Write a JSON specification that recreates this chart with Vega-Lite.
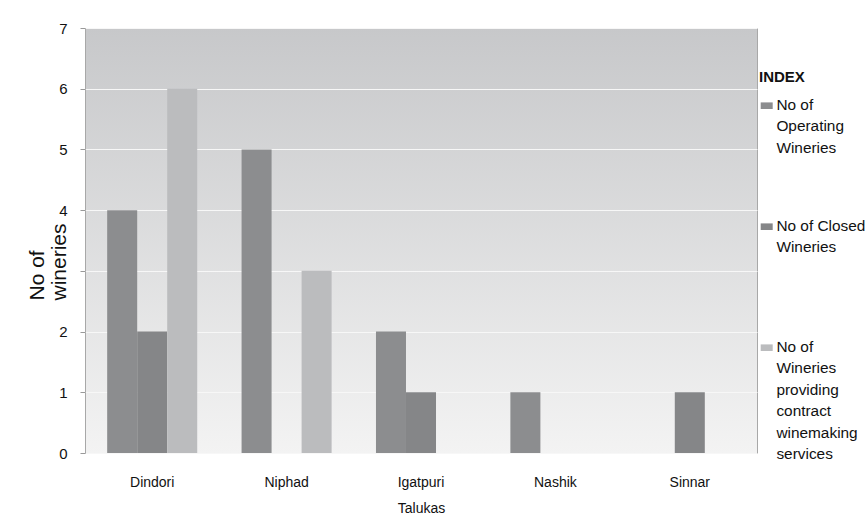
{
  "$schema": "https://vega.github.io/schema/vega-lite/v6.json",
  "width": 672,
  "height": 425,
  "autosize": {"type": "none"},
  "padding": {"left": 85, "top": 28, "right": 110, "bottom": 66},
  "background": "white",
  "config": {
    "font": "Liberation Sans",
    "view": {
      "stroke": "#a8a8a8",
      "strokeWidth": 1,
      "fill": {"gradient": "linear", "x1": 0, "y1": 0, "x2": 0, "y2": 1,
        "stops": [{"offset": 0, "color": "#c7c8ca"}, {"offset": 1, "color": "#f3f3f3"}]}
    }
  },
  "data": {
    "values": [
      {"taluka": "Dindori", "series": "No of Operating Wineries", "count": 4},
      {"taluka": "Dindori", "series": "No of Closed Wineries", "count": 2},
      {"taluka": "Dindori", "series": "No of Wineries providing contract winemaking services", "count": 6},
      {"taluka": "Niphad", "series": "No of Operating Wineries", "count": 5},
      {"taluka": "Niphad", "series": "No of Closed Wineries", "count": 0},
      {"taluka": "Niphad", "series": "No of Wineries providing contract winemaking services", "count": 3},
      {"taluka": "Igatpuri", "series": "No of Operating Wineries", "count": 2},
      {"taluka": "Igatpuri", "series": "No of Closed Wineries", "count": 1},
      {"taluka": "Igatpuri", "series": "No of Wineries providing contract winemaking services", "count": 0},
      {"taluka": "Nashik", "series": "No of Operating Wineries", "count": 1},
      {"taluka": "Nashik", "series": "No of Closed Wineries", "count": 0},
      {"taluka": "Nashik", "series": "No of Wineries providing contract winemaking services", "count": 0},
      {"taluka": "Sinnar", "series": "No of Operating Wineries", "count": 0},
      {"taluka": "Sinnar", "series": "No of Closed Wineries", "count": 1},
      {"taluka": "Sinnar", "series": "No of Wineries providing contract winemaking services", "count": 0}
    ]
  },
  "mark": {"type": "bar"},
  "encoding": {
    "x": {
      "field": "taluka", "type": "nominal",
      "sort": ["Dindori", "Niphad", "Igatpuri", "Nashik", "Sinnar"],
      "scale": {"paddingInner": 0.33, "paddingOuter": 0.165},
      "axis": {
        "title": "Talukas", "titleFontSize": 14, "titleFontWeight": "normal", "titleColor": "#111",
        "titlePadding": 12,
        "labelAngle": 0, "labelFontSize": 14, "labelColor": "#111", "labelPadding": 22,
        "ticks": false, "domain": false, "grid": false
      }
    },
    "xOffset": {
      "field": "series", "type": "nominal",
      "sort": ["No of Operating Wineries", "No of Closed Wineries", "No of Wineries providing contract winemaking services"],
      "scale": {"paddingInner": 0, "paddingOuter": 0}
    },
    "y": {
      "field": "count", "type": "quantitative",
      "scale": {"domain": [0, 7]},
      "axis": {
        "title": ["No of", "wineries"],
        "titleFontSize": 21, "titleFontWeight": "normal", "titleColor": "#111",
        "titleAngle": 270, "titleAlign": "left", "titleBaseline": "alphabetic",
        "titleLineHeight": 22, "titleX": -42, "titleY": 272,
        "values": [0, 1, 2, 3, 4, 5, 6, 7],
        "labelExpr": "datum.value == 3 ? '' : datum.label",
        "labelFontSize": 15, "labelColor": "#111", "labelPadding": 13,
        "tickSize": 5, "tickColor": "#999", "domain": false,
        "gridColor": "#f7f7f7", "gridWidth": 1.2
      }
    },
    "color": {
      "field": "series", "type": "nominal",
      "scale": {
        "domain": ["No of Operating Wineries", "No of Closed Wineries", "No of Wineries providing contract winemaking services"],
        "range": ["#8c8d8f", "#858688", "#bbbcbe"]
      },
      "legend": {
        "orient": "none", "legendX": 674, "legendY": 42,
        "title": "INDEX", "titleFontSize": 15, "titleFontWeight": "bold", "titleColor": "#111",
        "titlePadding": 13,
        "labelFontSize": 15.4, "labelColor": "#111", "labelBaseline": "top",
        "labelLimit": 200, "labelOffset": 2,
        "symbolType": "M-1,-0.55H1V0.55H-1Z", "symbolSize": 144, "symbolStrokeWidth": 0,
        "rowPadding": 18,
        "labelExpr": "datum.label == 'No of Operating Wineries' ? ['No of', 'Operating', 'Wineries', '', ''] : datum.label == 'No of Closed Wineries' ? ['No of Closed', 'Wineries', '', '', ''] : ['No of', 'Wineries', 'providing', 'contract', 'winemaking', 'services']",
        "encode": {
          "labels": {"update": {"lineHeight": {"value": 21.5}, "dy": {"value": -8}}}
        }
      }
    }
  }
}
